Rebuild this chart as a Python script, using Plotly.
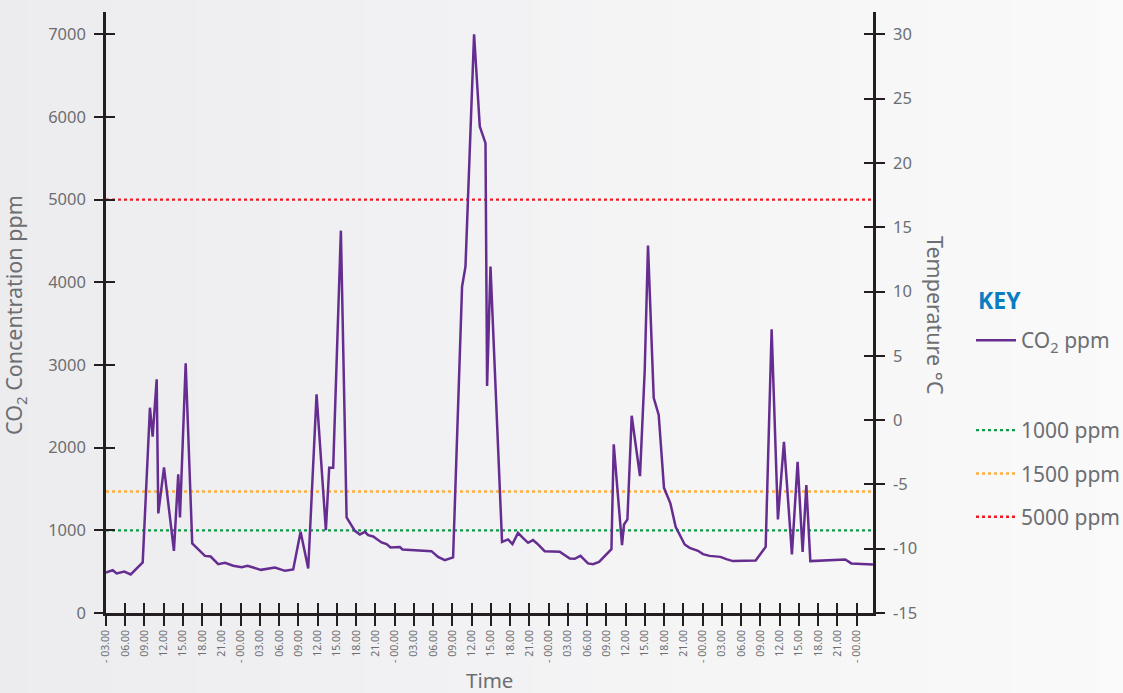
import plotly.graph_objects as go

# ---- data ----
hours = [3.00, 4.04, 4.67, 5.85, 6.85, 7.52, 8.72, 9.85, 10.27, 10.90,
         11.15, 12.04, 13.59, 14.26, 14.53, 15.42, 16.44, 18.42, 19.31, 20.49,
         21.54, 22.83, 24.14, 25.07, 27.15, 29.33, 30.89, 32.18, 33.33, 34.52,
         35.82, 37.27, 37.79, 38.41, 39.61, 40.50, 41.79, 42.57, 43.35, 43.86,
         44.64, 45.95, 46.73, 47.35, 48.80, 49.22, 53.73, 54.76, 55.81, 57.10,
         58.50, 59.03, 59.86, 60.37, 61.26, 62.15, 62.40, 62.93, 64.73, 65.67,
         66.35, 67.22, 67.91, 68.78, 69.56, 70.18, 71.38, 73.72, 75.28, 76.06,
         76.95, 78.13, 78.91, 79.85, 81.78, 82.14, 83.43, 83.74, 84.27, 84.94,
         86.23, 86.97, 87.48, 88.37, 89.15, 89.97, 90.97, 91.79, 93.20, 93.97,
         95.27, 96.05, 97.09, 98.76, 99.69, 100.72, 104.26, 105.82, 106.75, 107.73,
         108.67, 109.91, 110.80, 111.58, 112.16, 112.78, 118.23, 119.17, 122.54]
co2_ppm = [490, 518, 478, 502, 466, 518, 612, 2483, 2132, 2826,
           1205, 1761, 752, 1677, 1156, 3021, 841, 691, 683, 591,
           607, 571, 555, 571, 522, 551, 510, 526, 982, 539,
           2645, 1002, 1756, 1756, 4625, 1156, 994, 950, 982, 941,
           926, 854, 833, 793, 797, 769, 748, 679, 640, 672,
           3948, 4190, 5846, 7000, 5886, 5684, 2746, 4190, 861, 890,
           833, 969, 914, 849, 882, 841, 748, 740, 659, 656,
           691, 600, 591, 619, 772, 2040, 821, 1071, 1132, 2386,
           1656, 2940, 4445, 2604, 2395, 1514, 1326, 1042, 829, 788,
           752, 712, 691, 679, 652, 628, 636, 800, 3433, 1132,
           2071, 708, 1829, 740, 1547, 628, 648, 600, 587]

threshold_names = ["1000 ppm", "1500 ppm", "5000 ppm"]
threshold_values = [1000, 1470, 5000]
threshold_colors = ["#0f9a48", "#fbb040", "#ed1c24"]

tick_hours = list(range(3, 121, 3))
tick_labels = ["- 03.00", "06.00", "09.00", "12.00", "15.00", "18.00", "21.00"]
for _ in range(4):
    tick_labels += ["- 00.00", "03.00", "06.00", "09.00", "12.00", "15.00", "18.00", "21.00"]
tick_labels += ["- 00.00"]

co2_ticks = [0, 1000, 2000, 3000, 4000, 5000, 6000, 7000]
temp_ticks = [-15, -10, -5, 0, 5, 10, 15, 20, 25, 30]

# ---- ranges / style ----
x_range = [3.0, 122.55]
y_range = [0, 7270]
y2_range = [-15, -15 + 45 * y_range[1] / 7000]

FONT = "Noto Sans"
GREY = "#6d6e71"
AXIS = "#231f20"
PURPLE = "#662d91"

fig = go.Figure()

for name, val, col in zip(threshold_names, threshold_values, threshold_colors):
    fig.add_trace(go.Scatter(
        x=x_range, y=[val, val], mode="lines", name=name,
        line=dict(color=col, width=2.4, dash="3px,3px"),
        legend="legend2", legendgroup=name, hoverinfo="skip"))

fig.add_trace(go.Scatter(
    x=hours, y=co2_ppm, mode="lines", name="CO<sub>2</sub> ppm",
    line=dict(color=PURPLE, width=2.5), legend="legend", hoverinfo="skip"))

# background gradient (left grey -> right near white)
W, H = 1123, 693
L, R, T, B = 106, 250, 12, 80
pw, ph = W - L - R, H - T - B
shapes = []
n = 40
for i in range(n):
    px0 = W * i / n
    px1 = W * (i + 1) / n + 1
    f = (i + 0.5) / n
    c = [int(round(236 + (250 - 236) * f)), int(round(236 + (250 - 236) * f)),
         int(round(239 + (250 - 239) * f))]
    shapes.append(dict(type="rect", xref="paper", yref="paper", layer="below",
                       x0=(px0 - L) / pw, x1=(px1 - L) / pw,
                       y0=-(B + 5) / ph, y1=1 + (T + 5) / ph,
                       line=dict(width=0), fillcolor="rgb(%d,%d,%d)" % tuple(c)))

common_x = dict(range=x_range, tickmode="array", tickvals=tick_hours,
                showgrid=False, zeroline=False, fixedrange=True)

fig.update_layout(
    width=W, height=H,
    margin=dict(l=L, r=R, t=T, b=B),
    paper_bgcolor="#f5f5f6", plot_bgcolor="rgba(0,0,0,0)",
    font=dict(family=FONT, color=GREY),
    showlegend=True, hovermode=False,
    shapes=shapes,
    xaxis=dict(**common_x, ticktext=tick_labels, tickangle=-90,
               ticks="outside", ticklen=10, tickwidth=2, tickcolor=AXIS,
               showline=True, linecolor=AXIS, linewidth=2.5,
               tickfont=dict(size=10.5, color=GREY, family=FONT)),
    xaxis2=dict(**common_x, overlaying="x", anchor="y", side="bottom",
                ticks="inside", ticklen=10, tickwidth=2, tickcolor=AXIS,
                showticklabels=False, showline=False),
    yaxis=dict(range=y_range, tickmode="array", tickvals=co2_ticks,
               ticks="outside", ticklen=9, tickwidth=2, tickcolor=AXIS,
               showline=True, linecolor=AXIS, linewidth=2.5,
               showgrid=False, zeroline=False, fixedrange=True,
               ticklabelstandoff=5,
               tickfont=dict(size=16.5, color=GREY, family=FONT)),
    yaxis2=dict(range=y2_range, overlaying="y", side="right", anchor="x",
                tickmode="array", tickvals=temp_ticks,
                ticktext=[str(v) for v in temp_ticks],
                ticks="outside", ticklen=9, tickwidth=2, tickcolor=AXIS,
                showline=True, linecolor=AXIS, linewidth=2.5,
                showgrid=False, zeroline=False, fixedrange=True,
                ticklabelstandoff=5,
                tickfont=dict(size=16.5, color=GREY, family=FONT)),
    yaxis3=dict(range=y_range, overlaying="y", side="left", anchor="x",
                tickmode="array", tickvals=co2_ticks,
                ticks="inside", ticklen=9, tickwidth=2, tickcolor=AXIS,
                showticklabels=False, showline=False, showgrid=False,
                zeroline=False, fixedrange=True),
    yaxis4=dict(range=y2_range, overlaying="y", side="right", anchor="x",
                tickmode="array", tickvals=temp_ticks,
                ticks="inside", ticklen=9, tickwidth=2, tickcolor=AXIS,
                showticklabels=False, showline=False, showgrid=False,
                zeroline=False, fixedrange=True),
    legend=dict(xref="container", yref="container", x=971 / W, y=1 - 320 / H,
                xanchor="left", yanchor="top", bgcolor="rgba(0,0,0,0)",
                font=dict(size=21, color=GREY, family=FONT), itemwidth=40),
    legend2=dict(xref="container", yref="container", x=971 / W, y=1 - 410 / H,
                 xanchor="left", yanchor="top", bgcolor="rgba(0,0,0,0)",
                 tracegroupgap=13,
                 font=dict(size=21, color=GREY, family=FONT), itemwidth=40),
    annotations=[
        dict(text="Time", xref="paper", yref="paper", x=0.5, y=-(680 - (T + ph)) / ph,
             xanchor="center", yanchor="middle", showarrow=False,
             font=dict(size=20.5, color=GREY, family=FONT)),
        dict(text="CO<sub>2</sub> Concentration ppm", xref="paper", yref="paper",
             x=(15 - L) / pw, y=(T + ph - 315) / ph, textangle=-90,
             xanchor="center", yanchor="middle", showarrow=False,
             font=dict(size=21.5, color=GREY, family=FONT)),
        dict(text="Temperature °C", xref="paper", yref="paper",
             x=(936 - L) / pw, y=(T + ph - 315) / ph, textangle=90,
             xanchor="center", yanchor="middle", showarrow=False,
             font=dict(size=21.5, color=GREY, family=FONT)),
        dict(text="<b>KEY</b>", xref="paper", yref="paper",
             x=(976 - L) / pw, y=(T + ph - 300) / ph,
             xanchor="left", yanchor="middle", showarrow=False,
             font=dict(size=23, color="#0a7cc1", family=FONT)),
    ],
)

# attach invisible helpers so overlay axes are drawn
fig.add_trace(go.Scatter(x=[x_range[0]], y=[y_range[0]], xaxis="x2", yaxis="y3",
                         mode="markers", marker=dict(opacity=0), showlegend=False,
                         hoverinfo="skip"))
fig.add_trace(go.Scatter(x=[x_range[0]], y=[y2_range[0]], xaxis="x", yaxis="y2",
                         mode="markers", marker=dict(opacity=0), showlegend=False,
                         hoverinfo="skip"))
fig.add_trace(go.Scatter(x=[x_range[0]], y=[y2_range[0]], xaxis="x", yaxis="y4",
                         mode="markers", marker=dict(opacity=0), showlegend=False,
                         hoverinfo="skip"))

fig.write_html("out.html", config={"displayModeBar": False},
               post_script="document.body.style.margin='0';document.body.style.background='#f8f8f8';")
